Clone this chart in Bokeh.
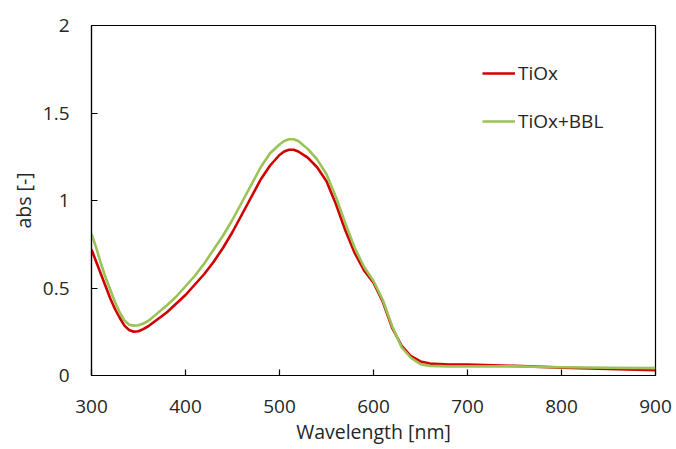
from bokeh.plotting import figure
from bokeh.models import FixedTicker, Legend, LegendItem, Range1d
from bokeh.embed import file_html
from bokeh.resources import INLINE

# Data
wavelength = [300, 305, 310, 315, 320, 325, 330, 335, 340, 345, 350, 355, 360, 370, 380, 390,
              400, 410, 420, 430, 440, 450, 460, 470, 480, 490, 500, 505, 510, 515, 520, 530,
              540, 550, 560, 570, 580, 590, 600, 610, 620, 630, 640, 650, 660, 680, 700, 750,
              800, 850, 900]
tiox = [0.72, 0.65, 0.58, 0.51, 0.44, 0.38, 0.33, 0.285, 0.26, 0.25, 0.253, 0.265, 0.28, 0.32,
        0.36, 0.41, 0.46, 0.52, 0.58, 0.65, 0.73, 0.82, 0.92, 1.02, 1.12, 1.20, 1.26, 1.28,
        1.29, 1.29, 1.28, 1.245, 1.19, 1.11, 0.98, 0.83, 0.70, 0.60, 0.53, 0.42, 0.27, 0.17,
        0.11, 0.08, 0.068, 0.063, 0.062, 0.055, 0.045, 0.037, 0.03]
tiox_bbl = [0.81, 0.73, 0.64, 0.56, 0.49, 0.42, 0.36, 0.315, 0.29, 0.285, 0.287, 0.297, 0.31,
            0.355, 0.40, 0.45, 0.51, 0.57, 0.64, 0.72, 0.80, 0.89, 0.99, 1.09, 1.19, 1.27, 1.32,
            1.34, 1.35, 1.35, 1.34, 1.295, 1.235, 1.15, 1.02, 0.87, 0.73, 0.62, 0.54, 0.43,
            0.28, 0.16, 0.10, 0.065, 0.055, 0.052, 0.052, 0.052, 0.047, 0.044, 0.042]
x_ticks = [300, 400, 500, 600, 700, 800, 900]
y_ticks = [0, 0.5, 1, 1.5, 2]
y_tick_labels = ["0", "0.5", "1", "1.5", "2"]
series_names = ["TiOx", "TiOx+BBL"]
series_colors = ["#D00000", "#9BC257"]

FONT = "Open Sans"
TXT = "#262626"

p = figure(width=676, height=449, output_backend="svg", toolbar_location=None,
           x_range=Range1d(300, 900), y_range=Range1d(0, 2),
           min_border_left=91, min_border_top=25, min_border_right=21, min_border_bottom=74)

r1 = p.line(wavelength, tiox, line_color=series_colors[0], line_width=2.6, line_join="round")
r2 = p.line(wavelength, tiox_bbl, line_color=series_colors[1], line_width=2.6, line_join="round")

p.xgrid.visible = False
p.ygrid.visible = False
p.outline_line_color = "#000000"
p.outline_line_width = 1.2

for ax in (p.xaxis[0], p.yaxis[0]):
    ax.axis_line_color = "#000000"
    ax.axis_line_width = 1.2
    ax.major_tick_line_color = "#000000"
    ax.major_tick_line_width = 1.2
    ax.major_tick_in = 6
    ax.major_tick_out = 0
    ax.minor_tick_line_color = None
    ax.major_label_text_font = FONT
    ax.major_label_text_font_size = "19px"
    ax.major_label_text_color = TXT
    ax.axis_label_text_font = FONT
    ax.axis_label_text_font_size = "19.5px"
    ax.axis_label_text_font_style = "normal"
    ax.axis_label_text_color = TXT

p.xaxis[0].ticker = FixedTicker(ticks=x_ticks)
p.yaxis[0].ticker = FixedTicker(ticks=y_ticks)
p.yaxis[0].major_label_overrides = {t: l for t, l in zip(y_ticks, y_tick_labels)}
p.xaxis[0].axis_label = "Wavelength [nm]"
p.yaxis[0].axis_label = "abs [-]"
p.xaxis[0].major_label_standoff = 24
p.xaxis[0].axis_label_standoff = 2
p.yaxis[0].major_label_standoff = 22
p.yaxis[0].axis_label_standoff = 3

legend = Legend(items=[LegendItem(label=series_names[0], renderers=[r1]),
                       LegendItem(label=series_names[1], renderers=[r2])],
                location=(391, 241), padding=0, margin=0, spacing=22,
                glyph_width=33, glyph_height=20, label_height=20, label_standoff=3,
                label_text_font=FONT, label_text_font_size="19px", label_text_color=TXT,
                border_line_alpha=0, background_fill_alpha=0)
p.add_layout(legend)

open("out.html", "w").write(file_html(p, INLINE))
